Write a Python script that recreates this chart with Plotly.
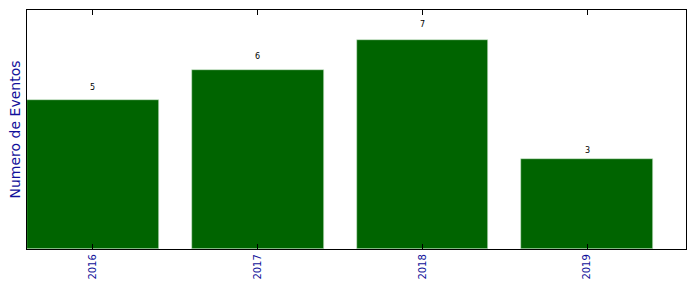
import plotly.graph_objects as go

years = ["2016", "2017", "2018", "2019"]
events = [5, 6, 7, 3]
positions = [0, 1, 2, 3]

fig = go.Figure()
fig.add_trace(go.Bar(
    x=positions, y=events, width=0.8,
    marker=dict(color="#006400", line=dict(color="#cfe8cf", width=0.6)),
))
for p, v in zip(positions, events):
    fig.add_annotation(
        x=p, y=v * 1.05, text=str(v), showarrow=False,
        xanchor="center", yanchor="bottom", yshift=-2,
        font=dict(family="DejaVu Sans", size=8, color="black"),
    )
fig.update_layout(
    width=696, height=292,
    margin=dict(l=27, r=10, t=10, b=43),
    paper_bgcolor="white", plot_bgcolor="white",
    showlegend=False,
    font=dict(family="DejaVu Sans"),
    bargap=0,
)
fig.update_xaxes(
    range=[-0.4, 3.6], tickvals=positions, ticktext=years,
    tickangle=-90, tickfont=dict(size=10, color="#10109a"),
    ticks="inside", ticklen=5, tickcolor="black", tickwidth=1,
    showline=True, linecolor="black", linewidth=1.3, mirror="ticks",
    showgrid=False, zeroline=False,
)
fig.update_yaxes(
    range=[0, 8], showticklabels=False, ticks="",
    showline=True, linecolor="black", linewidth=1.3, mirror=True,
    showgrid=False, zeroline=False,
    title=dict(text="Numero de Eventos", font=dict(size=14, color="#10109a"), standoff=1),
)
fig.write_html("out.html")
